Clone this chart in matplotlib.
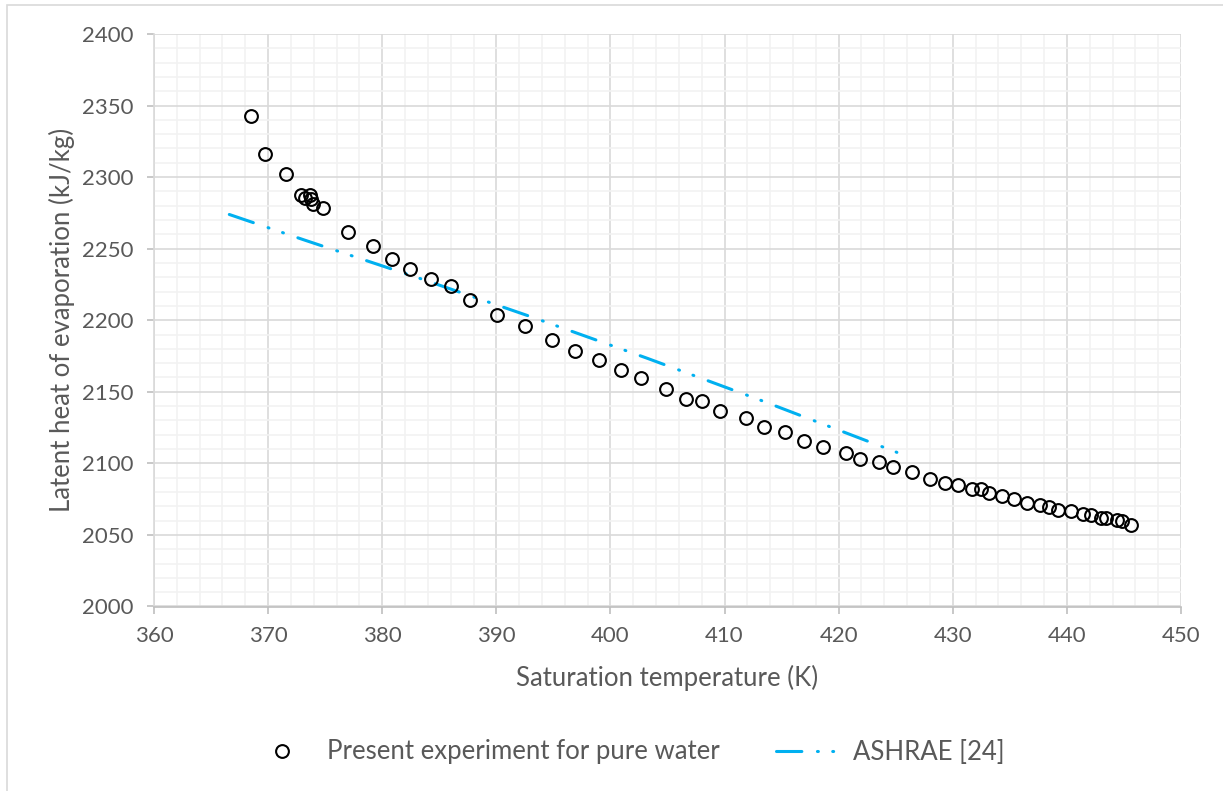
import matplotlib
matplotlib.use("Agg")
import matplotlib.pyplot as plt
from matplotlib.patches import Rectangle
from matplotlib.lines import Line2D
from matplotlib.ticker import MultipleLocator

plt.rcParams['font.family'] = ['Lato', 'DejaVu Sans']

# experiment points (K, kJ/kg)
t_exp = [368.5, 369.7, 371.6, 372.9, 373.2, 373.7, 373.8, 373.9, 374.8,
         377.0, 379.2, 380.9, 382.4, 384.3, 386.0, 387.7, 390.1, 392.5,
         394.9, 396.9, 399.0, 400.9, 402.7, 404.9, 406.6, 408.0, 409.6,
         411.9, 413.5, 415.3, 417.0, 418.6, 420.6, 421.9, 423.5, 424.8,
         426.4, 428.0, 429.3, 430.5, 431.7, 432.5, 433.2, 434.3, 435.4,
         436.5, 437.6, 438.4, 439.2, 440.4, 441.4, 442.1, 443.0, 443.4,
         444.4, 444.8, 445.6]
h_exp = [2342.8, 2316.0, 2302.2, 2287.4, 2285.6, 2287.4, 2285.0, 2280.9, 2278.1,
         2261.5, 2252.2, 2242.9, 2235.9, 2228.9, 2223.7, 2214.4, 2203.9, 2196.3,
         2186.3, 2178.6, 2172.1, 2164.9, 2159.7, 2152.0, 2145.2, 2143.8, 2136.4,
         2131.9, 2125.6, 2121.9, 2115.6, 2111.6, 2107.4, 2103.0, 2100.7, 2097.6,
         2093.9, 2089.0, 2086.6, 2084.6, 2082.0, 2082.0, 2079.0, 2077.1, 2075.2,
         2072.6, 2070.8, 2069.6, 2067.7, 2066.8, 2064.9, 2063.7, 2061.9, 2062.1,
         2060.2, 2059.5, 2056.7]

# ASHRAE reference line
t_ashrae = [366.6, 373.2, 383.2, 393.2, 403.2, 413.2, 425.1]
h_ashrae = [2273.9, 2256.0, 2229.5, 2202.0, 2173.5, 2144.0, 2107.7]

grey_txt = '#595959'
ashrae_style = (0, (8.3, 5.1, 0.3, 4.7, 0.3, 5.0))

fig = plt.figure(figsize=(12.23, 7.91), dpi=100)
W, H = 1223, 791
ax = fig.add_axes([154 / W, (H - 606.5) / H, (1181 - 154) / W, (606.5 - 34) / H])

# outer chart-area frame (left/top visible)
fig.patches.append(Rectangle((7 / W, -0.1), 1.2, (H - 5) / H + 0.1, transform=fig.transFigure,
                             fill=False, edgecolor='#D9D9D9', linewidth=1.2))

ax.plot(t_ashrae, h_ashrae, color='#00B0F0', linewidth=2.2, linestyle=ashrae_style,
        dash_capstyle='round', zorder=3)
ax.plot(t_exp, h_exp, linestyle='none', marker='o', markersize=9.2, markerfacecolor='none',
        markeredgecolor='black', markeredgewidth=1.5, zorder=4)

ax.set_xlim(360, 450)
ax.set_ylim(2000, 2400)
ax.xaxis.set_major_locator(MultipleLocator(10))
ax.xaxis.set_minor_locator(MultipleLocator(2))
ax.yaxis.set_major_locator(MultipleLocator(50))
ax.yaxis.set_minor_locator(MultipleLocator(10))
ax.grid(which='major', color='#D9D9D9', linewidth=1.2, zorder=0)
ax.grid(which='minor', color='#F2F2F2', linewidth=1.2, zorder=0)
ax.set_axisbelow(True)

for side in ['top', 'right']:
    ax.spines[side].set_visible(False)
for side in ['left', 'bottom']:
    ax.spines[side].set_color('#BFBFBF')
    ax.spines[side].set_linewidth(1.2)
ax.spines['left'].set_color('#D9D9D9')

ax.tick_params(which='major', length=5, width=1.2, color='#BFBFBF', labelsize=16,
               labelcolor=grey_txt)
ax.tick_params(axis='x', pad=9)
ax.tick_params(axis='y', pad=10)
ax.tick_params(which='minor', length=0)

ax.set_xlabel('Saturation temperature (K)', fontsize=18.5, color=grey_txt, labelpad=14)
ax.set_ylabel('Latent heat of evaporation (kJ/kg)', fontsize=18.5, color=grey_txt)
ax.yaxis.set_label_coords((75 - 154) / 1027, 0.5)

handles = [
    Line2D([], [], linestyle='none', marker='o', markersize=9.2, markerfacecolor='none',
           markeredgecolor='black', markeredgewidth=1.5),
    Line2D([], [], color='#00B0F0', linewidth=2.2, linestyle=ashrae_style,
           dash_capstyle='round'),
]
fig.legend(handles, ['Present experiment for pure water', 'ASHRAE [24]'],
           loc='center', bbox_to_anchor=(627 / W, (H - 752) / H), ncol=2, frameon=False,
           fontsize=18.5, labelcolor=grey_txt, handlelength=2.5, columnspacing=2.2,
           handletextpad=0.5, borderpad=0, borderaxespad=0)

fig.savefig('out.png', dpi=100)
